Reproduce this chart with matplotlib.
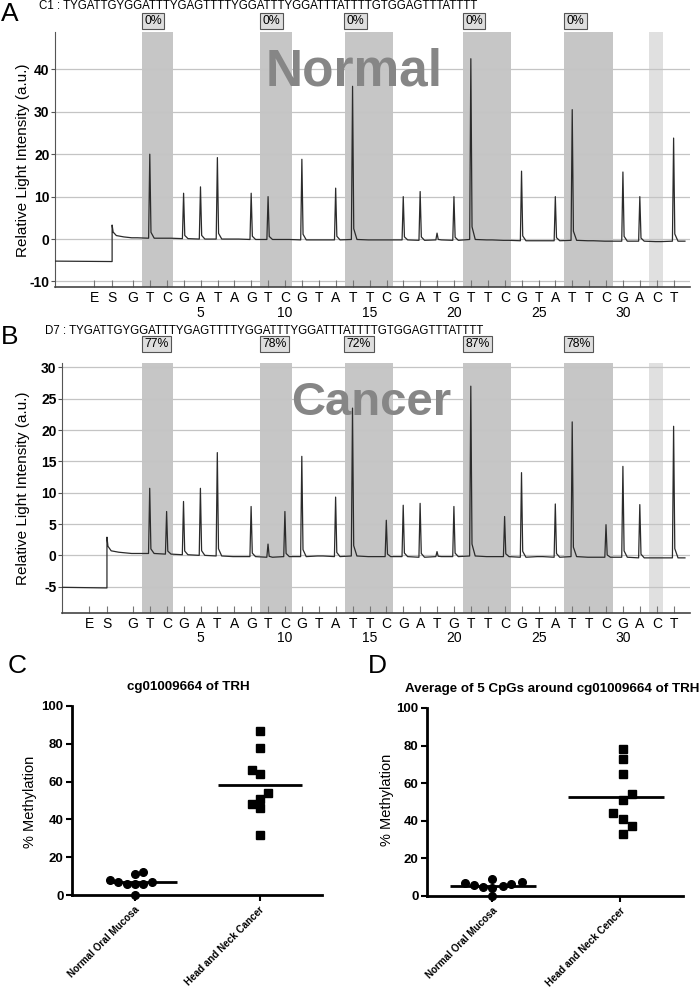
import matplotlib.pyplot as plt
import matplotlib as mpl

mpl.rcParams["font.family"] = ["Liberation Sans", "DejaVu Sans"]
mpl.rcParams["axes.unicode_minus"] = False

# Pyrosequencing dispensation order (positions 1..33), E and S come before it
dispensation = list("GTCGATAGTCGTATTCGATGTTCGTATTCGACT")
position_numbers = [5, 10, 15, 20, 25, 30]
cpg_sites = [[2, 3], [9, 10], [14, 15, 16], [21, 22, 23], [27, 28, 29]]
control_site = [32]

normal_header = "C1 : TYGATTGYGGATTTYGAGTTTTYGGATTTYGGATTTATTTTGTGGAGTTTATTTT"
cancer_header = "D7 : TYGATTGYGGATTTYGAGTTTTYGGATTTYGGATTTATTTTGTGGAGTTTATTTT"
normal_pct = ["0%", "0%", "0%", "0%", "0%"]
cancer_pct = ["77%", "78%", "72%", "87%", "78%"]

# peak height at each dispensation (a.u.)
normal_peaks = [0, 20.0, 0, 10.8, 12.3, 19.2, 0, 10.8, 10.0, 0,
                18.8, 0, 12.0, 36.0, 0, 0, 10.0, 11.2, 1.4, 10.0,
                42.5, 0, 0, 16.0, 0, 10.0, 30.5, 0, 0, 15.8,
                10.0, 0, 23.8]
cancer_peaks = [0, 10.7, 7.0, 8.6, 10.7, 16.4, 0, 7.8, 1.8, 7.0,
                15.8, 0, 9.3, 23.5, 0, 5.6, 8.0, 8.3, 0.6, 7.8,
                27.0, 0, 6.2, 13.2, 0, 8.2, 21.3, 0, 4.9, 14.2,
                8.1, 0, 20.6]
# baseline level around each dispensation
normal_baseline = [0.3, 0.2, 0.2, 0.1, 0.0, 0.0, 0.0, -0.1, -0.1, -0.1,
                   -0.2, -0.2, -0.2, -0.1, -0.2, -0.2, -0.2, -0.3, -0.2, -0.3,
                   -0.1, -0.2, -0.3, -0.4, -0.4, -0.4, -0.3, -0.4, -0.5, -0.5,
                   -0.5, -0.6, -0.5]
cancer_baseline = [0.3, 0.3, 0.2, 0.1, 0.0, -0.1, -0.2, -0.2, -0.3, -0.2,
                   -0.2, -0.1, -0.2, -0.1, -0.2, -0.2, -0.2, -0.3, -0.2, -0.2,
                   -0.1, -0.2, -0.2, -0.3, -0.2, -0.3, -0.2, -0.3, -0.3, -0.3,
                   -0.4, -0.4, -0.4]
normal_start, normal_spike = -5.2, 3.3
cancer_start, cancer_spike = -5.1, 2.9

# dot plots
groups_c = ["Normal Oral Mucosa", "Head and Neck Cancer"]
groups_d = ["Normal Oral Mucosa", "Head and Neck Cencer"]
cg_normal = [8, 7, 6, 11, 6, 12, 6, 7, 0]
cg_normal_dx = [-0.20, -0.13, -0.06, 0, 0, 0.07, 0.07, 0.14, 0]
cg_cancer = [87, 78, 66, 64, 54, 51, 48, 46, 32]
cg_cancer_dx = [0, 0, -0.06, 0, 0.07, 0, -0.06, 0, 0]
avg_normal = [6.7, 5.8, 4.6, 8.9, 4.1, 5.5, 6.4, 7.3, 0]
avg_normal_dx = [-0.21, -0.14, -0.07, 0, 0, 0.08, 0.15, 0.23, 0]
avg_cancer = [78, 73, 65, 54, 51, 44, 41, 37, 33]
avg_cancer_dx = [0.02, 0.02, 0.02, 0.09, 0.02, -0.06, 0.02, 0.09, 0.02]

SHADE = "#c6c6c6"
SHADE_LIGHT = "#e0e0e0"
GRID = "#c4c4c4"
BIG_TEXT = "#868686"


def make_trace(peaks, baseline, s_pos, x_left, x_right, start, spike):
    xs = [x_left, s_pos, s_pos, s_pos + 0.06, s_pos + 0.25, s_pos + 0.7]
    ys = [start, start - 0.1, spike, spike * 0.5, spike * 0.25, baseline[0] + 0.2]
    for n, (h, b) in enumerate(zip(peaks, baseline), start=1):
        if h > 0:
            xs += [n - 0.08, n - 0.01, n + 0.06, n + 0.25]
            ys += [b, h, b + 0.07 * (h - b), b]
        else:
            xs += [n - 0.08, n + 0.25]
            ys += [b, b]
    xs.append(x_right)
    ys.append(baseline[-1])
    return xs, ys


def pyro_panel(ax, peaks, baseline, es_pos, xlim, ylim, yticks, start, spike,
               pct, box_off, label_off, big_word, word_xy, word_size):
    ax.set_xlim(xlim)
    ax.set_ylim(ylim)
    for y in yticks:
        ax.axhline(y, color=GRID, lw=0.9, zorder=1)
    for site in cpg_sites:
        ax.axvspan(site[0] - 0.47, site[-1] + 0.38, color=SHADE, lw=0, zorder=0)
    ax.axvspan(control_site[0] - 0.47, control_site[-1] + 0.36, color=SHADE_LIGHT, lw=0, zorder=0)

    ax.text(word_xy[0], word_xy[1], big_word, ha="center", va="baseline",
            fontsize=word_size, fontweight="bold", color=BIG_TEXT, zorder=2)

    xs, ys = make_trace(peaks, baseline, es_pos[1], xlim[0], xlim[1] - 0.3, start, spike)
    ax.plot(xs, ys, color="#2b2b2b", lw=0.9, zorder=3)

    # percentage boxes above each CpG site
    for site, p in zip(cpg_sites, pct):
        ax.annotate(p, xy=(site[0] - 0.35, 1), xycoords=("data", "axes fraction"),
                    xytext=(0, box_off), textcoords="offset pixels",
                    ha="left", va="center", fontsize=8.8, annotation_clip=False,
                    bbox=dict(boxstyle="square,pad=0.2", fc="#dedede", ec="#555555", lw=0.8))

    ticks = list(es_pos) + list(range(1, len(dispensation) + 1))
    ax.set_xticks(ticks)
    ax.set_xticklabels(["E", "S"] + dispensation, fontsize=10)
    ax.tick_params(axis="x", direction="in", length=5, width=0.8, color="#777777", pad=3)
    for n in position_numbers:
        ax.annotate(str(n), xy=(n, 0), xycoords=("data", "axes fraction"),
                    xytext=(0, label_off), textcoords="offset pixels",
                    ha="center", va="center", fontsize=10, annotation_clip=False)

    ax.set_yticks(yticks)
    ax.set_yticklabels([str(y) for y in yticks], fontsize=10, fontweight="bold")
    ax.tick_params(axis="y", direction="out", length=3, width=0.8, color="#555555", pad=1)
    for side in ["top", "right"]:
        ax.spines[side].set_visible(False)
    ax.spines["left"].set_color("#555555")
    ax.spines["bottom"].set_color("#444444")
    ax.spines["bottom"].set_linewidth(1.2)


def dot_panel(ax, groups, normal, normal_dx, cancer, cancer_dx, xlim, spans):
    ax.set_xlim(xlim)
    ax.set_ylim(0, 100)
    ax.plot([d for d in normal_dx], normal, "o", color="black", ms=5.5, clip_on=False, zorder=3)
    ax.plot([1 + d for d in cancer_dx], cancer, "s", color="black", ms=5.5, clip_on=False, zorder=3)
    for i, vals in enumerate([normal, cancer]):
        m = sum(vals) / len(vals)
        ax.hlines(m, i + spans[i][0], i + spans[i][1], color="black", lw=2, zorder=2)
    ax.set_xticks([0, 1])
    ax.set_xticklabels(groups, rotation=45, ha="right", va="top", rotation_mode="anchor",
                       fontsize=7.1, fontweight="bold")
    ax.set_yticks([0, 20, 40, 60, 80, 100])
    ax.set_yticklabels(["0", "20", "40", "60", "80", "100"], fontsize=9.5, fontweight="bold")
    ax.tick_params(axis="both", direction="out", length=4, width=1.5, pad=2)
    ax.tick_params(axis="x", pad=3)
    for side in ["top", "right"]:
        ax.spines[side].set_visible(False)
    for side in ["left", "bottom"]:
        ax.spines[side].set_linewidth(2)


fig = plt.figure(figsize=(7, 9.89), dpi=100)
W, H = 700.0, 989.0


def px_axes(left, top, right, bottom):
    return fig.add_axes([left / W, 1 - bottom / H, (right - left) / W, (bottom - top) / H])


# Panel A
ax_a = px_axes(55, 32, 690, 287)
pyro_panel(ax_a, normal_peaks, normal_baseline, (-1.31, -0.24), (-3.62, 33.96), (-11.3, 48.8),
           [-10, 0, 10, 20, 30, 40], normal_start, normal_spike, normal_pct,
           11, -26, "Normal", (14.1, 36.3), 37)
fig.text(39 / W, 1 - 6 / H, normal_header, fontsize=8.3, va="center", ha="left")
fig.text(10 / W, 1 - 14 / H, "A", fontsize=19, ha="center", va="center")
fig.text(23 / W, 1 - 160 / H, "Relative Light Intensity (a.u.)", fontsize=11,
         rotation=90, ha="center", va="center")

# Panel B
ax_b = px_axes(62, 363, 690, 613)
pyro_panel(ax_b, cancer_peaks, cancer_baseline, (-1.6, -0.54), (-3.2, 33.96), (-9.2, 30.7),
           [-5, 0, 5, 10, 15, 20, 25, 30], cancer_start, cancer_spike, cancer_pct,
           19, -25, "Cancer", (15.1, 22.4), 34)
fig.text(45 / W, 1 - 331 / H, cancer_header, fontsize=8.3, va="center", ha="left")
fig.text(10 / W, 1 - 337 / H, "B", fontsize=19, ha="center", va="center")
fig.text(23 / W, 1 - 488 / H, "Relative Light Intensity (a.u.)", fontsize=11,
         rotation=90, ha="center", va="center")

# Panel C
ax_c = px_axes(72, 706, 322, 895)
dot_panel(ax_c, groups_c, cg_normal, cg_normal_dx, cg_cancer, cg_cancer_dx, (-0.5, 1.5),
          [(-0.22, 0.34), (-0.33, 0.34)])
fig.text(188 / W, 1 - 687 / H, "cg01009664 of TRH", fontsize=9.6, fontweight="bold",
         ha="center", va="center")
fig.text(30 / W, 1 - 802 / H, "% Methylation", fontsize=10.5, rotation=90, ha="center", va="center")
fig.text(17 / W, 1 - 666 / H, "C", fontsize=19, ha="center", va="center")

# Panel D
ax_d = px_axes(427, 708, 683, 896)
dot_panel(ax_d, groups_d, avg_normal, avg_normal_dx, avg_cancer, avg_cancer_dx, (-0.51, 1.49),
          [(-0.33, 0.34), (-0.41, 0.34)])
fig.text(552 / W, 1 - 689 / H, "Average of 5 CpGs around cg01009664 of TRH", fontsize=9.6,
         fontweight="bold", ha="center", va="center")
fig.text(387 / W, 1 - 800 / H, "% Methylation", fontsize=10.5, rotation=90, ha="center", va="center")
fig.text(377 / W, 1 - 666 / H, "D", fontsize=19, ha="center", va="center")

fig.savefig("out.png", dpi=100)
